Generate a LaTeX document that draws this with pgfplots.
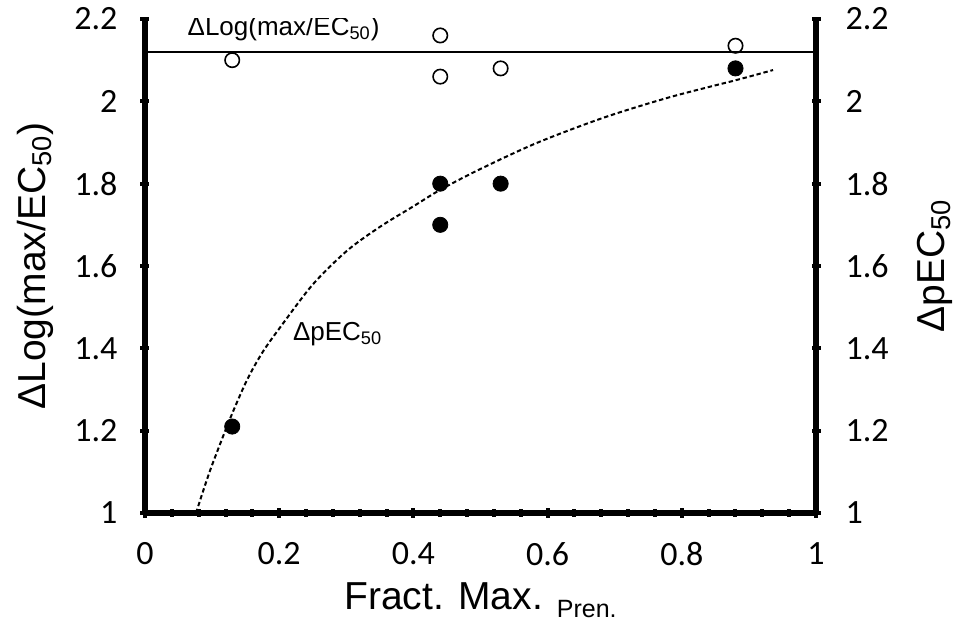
\documentclass[border=0pt]{standalone}
\usepackage{fontspec}
\setmainfont{Liberation Sans}
\newfontfamily\tickfont{Carlito}
\usepackage{pgfplots}
\pgfplotsset{compat=1.18}
\newcommand{\lblfont}{\fontsize{19.5}{20}\selectfont}

\pgfplotsset{
  common/.style={
    width=335.5pt, height=247pt, scale only axis,
    xmin=0, xmax=1, ymin=1, ymax=2.2,
    enlargelimits=false,
    tick align=inside,
    ytick={1,1.2,...,2.2},
    yticklabels={1,1.2,1.4,1.6,1.8,2,2.2},
    /pgf/number format/assume math mode=true,
    ticklabel style={font=\tickfont\fontsize{17}{17}\selectfont},
    major tick length=4.5pt,
    minor tick length=3.8pt,
    every tick/.style={black, line width=2pt},
  },
}

\begin{document}
\begin{tikzpicture}
% left axis with the data
\begin{axis}[common,
  axis x line=bottom, axis y line=left,
  x axis line style={-, line width=3pt},
  y axis line style={-, line width=3pt},
  xtick={0,0.2,...,1},
  xticklabels={0,0.2,0.4,0.6,0.8,1},
  minor x tick num=4,
  xticklabel style={yshift=-9pt},
  yticklabel style={xshift=-8pt},
  xlabel={Fract. Max.\hspace{7pt}\raisebox{-4pt}{\fontsize{12.5}{13}\selectfont Pren.}},
  ylabel={ΔLog(max/EC\textsubscript{50})},
  every axis x label/.style={font=\lblfont, at={(axis description cs:0.5,-0.176)}, anchor=center},
  every axis y label/.style={font=\lblfont, at={(axis description cs:-0.164,0.5)}, rotate=90, anchor=center},
]
% reference line for delta log(max/EC50)
\addplot[black, line width=1pt] coordinates {(0,2.12) (1,2.12)};

% fitted curve for delta pEC50
\addplot[black, line width=1pt, dash pattern=on 2.2pt off 1.4pt, smooth] coordinates {
  (0.076,1.000) (0.090,1.070) (0.101,1.121) (0.127,1.230) (0.152,1.323)
  (0.175,1.390) (0.201,1.450) (0.250,1.555) (0.301,1.637) (0.350,1.695)
  (0.400,1.745) (0.440,1.785) (0.499,1.835) (0.584,1.899) (0.683,1.960)
  (0.782,2.010) (0.882,2.052) (0.936,2.076)
};

% open circles: delta log(max/EC50)
\addplot[only marks, mark=o, mark size=3.6pt, mark options={fill=white, line width=0.8pt}]
  coordinates {(0.13,2.10) (0.44,2.16) (0.44,2.06) (0.53,2.08) (0.88,2.135)};

% filled circles: delta pEC50
\addplot[only marks, mark=*, mark size=3.8pt, black]
  coordinates {(0.13,1.21) (0.44,1.80) (0.44,1.70) (0.53,1.80) (0.88,2.08)};

\node[anchor=base west, font=\fontsize{13}{13}\selectfont, inner sep=0pt] at (axis cs:0.063,2.16) {ΔLog(max/EC\textsubscript{50})};
\node[anchor=base west, font=\fontsize{13}{13}\selectfont, inner sep=0pt] at (axis cs:0.22,1.42) {ΔpEC\textsubscript{50}};
\end{axis}

% right axis
\begin{axis}[common,
  axis x line=none, axis y line=right,
  y axis line style={-, line width=3pt},
  yticklabel style={xshift=9pt},
  ylabel={ΔpEC\textsubscript{50}},
  every axis y label/.style={font=\lblfont, at={(axis description cs:1.177,0.5)}, rotate=90, anchor=center},
]
\end{axis}

% page margins as in the reference
\path (-72.5pt,-58.5pt) rectangle (408pt,256.5pt);
\end{tikzpicture}
\end{document}
